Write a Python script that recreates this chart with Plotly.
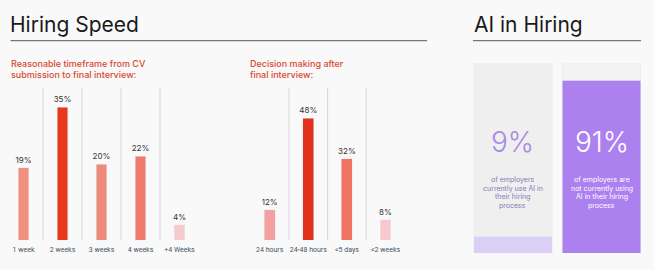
import plotly.graph_objects as go

W, H = 654, 270

# ---- data ----
cv_categories = ["1 week", "2 weeks", "3 weeks", "4 weeks", "+4 Weeks"]
cv_values = [19, 35, 20, 22, 4]
dec_categories = ["24 hours", "24-48 hours", "<5 days", "<2 weeks"]
dec_values = [12, 48, 32, 8]
ai_categories = ["use", "not using"]
ai_values = [9, 91]
ai_text_lines = [["of employers", "currently use AI in", "their hiring", "process"],
                 ["of employers are", "not currently using", "AI in their hiring", "process"]]

# ---- styles ----
cv_colors = ["#f2907f", "#e8391b", "#f08a78", "#ee7b6c", "#f8c9cc"]
dec_colors = ["#f4a0a0", "#e0341a", "#ee7362", "#f8c9cc"]
BG = "#f9f9f9"
RED = "#d8482e"
TICK = "#3d5566"
FONT = "Inter"

def px(x):
    return x / W

def py(y):
    return 1 - y / H

fig = go.Figure()

fig.add_trace(go.Bar(
    x=cv_categories, y=cv_values, marker_color=cv_colors, width=0.28,
    text=[f"{v}%" for v in cv_values], textposition="outside", constraintext="none",
    textfont=dict(size=8, color="#333333", family=FONT), cliponaxis=False,
    xaxis="x", yaxis="y", hoverinfo="skip"))

fig.add_trace(go.Bar(
    x=dec_categories, y=dec_values, marker_color=dec_colors, width=0.28,
    text=[f"{v}%" for v in dec_values], textposition="outside", constraintext="none",
    textfont=dict(size=8, color="#333333", family=FONT), cliponaxis=False,
    xaxis="x2", yaxis="y2", hoverinfo="skip"))

# AI stacked columns (share vs remainder)
ai_rest = [100 - v for v in ai_values]
fig.add_trace(go.Bar(
    x=ai_categories, y=ai_values, marker_color=["#dccff6", "#ad80f0"], width=0.884,
    xaxis="x3", yaxis="y3", hoverinfo="skip"))
fig.add_trace(go.Bar(
    x=ai_categories, y=ai_rest, marker_color=["#efefef", "#f3f3f3"], width=0.884,
    xaxis="x3", yaxis="y3", hoverinfo="skip"))

ydom = [py(240), py(88)]
common_x = dict(showgrid=False, zeroline=False, showline=False, ticks="outside",
                ticklen=3, tickcolor="rgba(0,0,0,0)", tickangle=0, automargin=False,
                tickfont=dict(size=7, color=TICK, family="Roboto"), fixedrange=True)
common_y = dict(showgrid=False, zeroline=False, showline=False, showticklabels=False,
                automargin=False, fixedrange=True)

fig.update_layout(
    width=W, height=H, margin=dict(l=0, r=0, t=0, b=0, autoexpand=False),
    paper_bgcolor=BG, plot_bgcolor="rgba(0,0,0,0)", showlegend=False,
    barmode="stack", font=dict(family=FONT),
    xaxis=dict(domain=[px(4), px(199)], range=[-0.5, 4.5], anchor="y", **common_x),
    yaxis=dict(domain=ydom, range=[0, 40], anchor="x", **common_y),
    xaxis2=dict(domain=[px(250.4), px(404.8)], range=[-0.5, 3.5], anchor="y2", **common_x),
    yaxis2=dict(domain=ydom, range=[0, 60], anchor="x2", **common_y),
    xaxis3=dict(domain=[px(468.6), px(645.8)], range=[-0.5, 1.5], anchor="y3",
                showticklabels=False, showgrid=False, zeroline=False, automargin=False,
                fixedrange=True),
    yaxis3=dict(domain=[py(253.3), py(63.3)], range=[0, 100], anchor="x3", **common_y),
)

# dividers between categories
for i in range(len(cv_categories) - 1):
    fig.add_shape(type="line", xref="x", yref="y", x0=i + 0.5, x1=i + 0.5, y0=0, y1=40,
                  line=dict(color="#d4d4d4", width=1))
for i in range(len(dec_categories) - 1):
    fig.add_shape(type="line", xref="x2", yref="y2", x0=i + 0.5, x1=i + 0.5, y0=0, y1=60,
                  line=dict(color="#d4d4d4", width=1))

# title rules
fig.add_shape(type="line", xref="paper", yref="paper", x0=px(10.5), x1=px(427),
              y0=py(40.7), y1=py(40.7), line=dict(color="#555555", width=1))
fig.add_shape(type="line", xref="paper", yref="paper", x0=px(473), x1=px(641),
              y0=py(40.7), y1=py(40.7), line=dict(color="#555555", width=1))

def ann(text, x, y, size, color, xanchor="left", weight=None, xref="paper", yref="paper",
        family=FONT):
    f = dict(size=size, color=color, family=family)
    if weight:
        f["weight"] = weight
    fig.add_annotation(text=text, x=x, y=y, xref=xref, yref=yref, xanchor=xanchor,
                       yanchor="middle", showarrow=False, font=f, align="center")

ann("Hiring Speed", px(8), py(25), 21, "#1a1a1a", weight=400)
ann("AI in Hiring", px(472), py(25), 21, "#1a1a1a", weight=400)

ann("Reasonable timeframe from CV", px(9), py(63), 9, RED, weight=500)
ann("submission to final interview:", px(9), py(74.5), 9, RED, weight=500)
ann("Decision making after", px(248), py(63), 9, RED, weight=500)
ann("final interview:", px(248), py(74.5), 9, RED, weight=500)

# AI texts
big_colors = ["#a98ae6", "#ffffff"]
small_colors = ["#8a78b8", "#ffffff"]
for i, (cat, v) in enumerate(zip(ai_categories, ai_values)):
    ann(f"{v}%", cat, 58.5, 28, big_colors[i], xanchor="center", weight=300,
        xref="x3", yref="y3")
    for k, line in enumerate(ai_text_lines[i]):
        ann(line, cat, py(179.7 + 8.5 * k), 7, small_colors[i], xanchor="center",
            xref="x3", yref="paper")

fig.write_html("out.html")
